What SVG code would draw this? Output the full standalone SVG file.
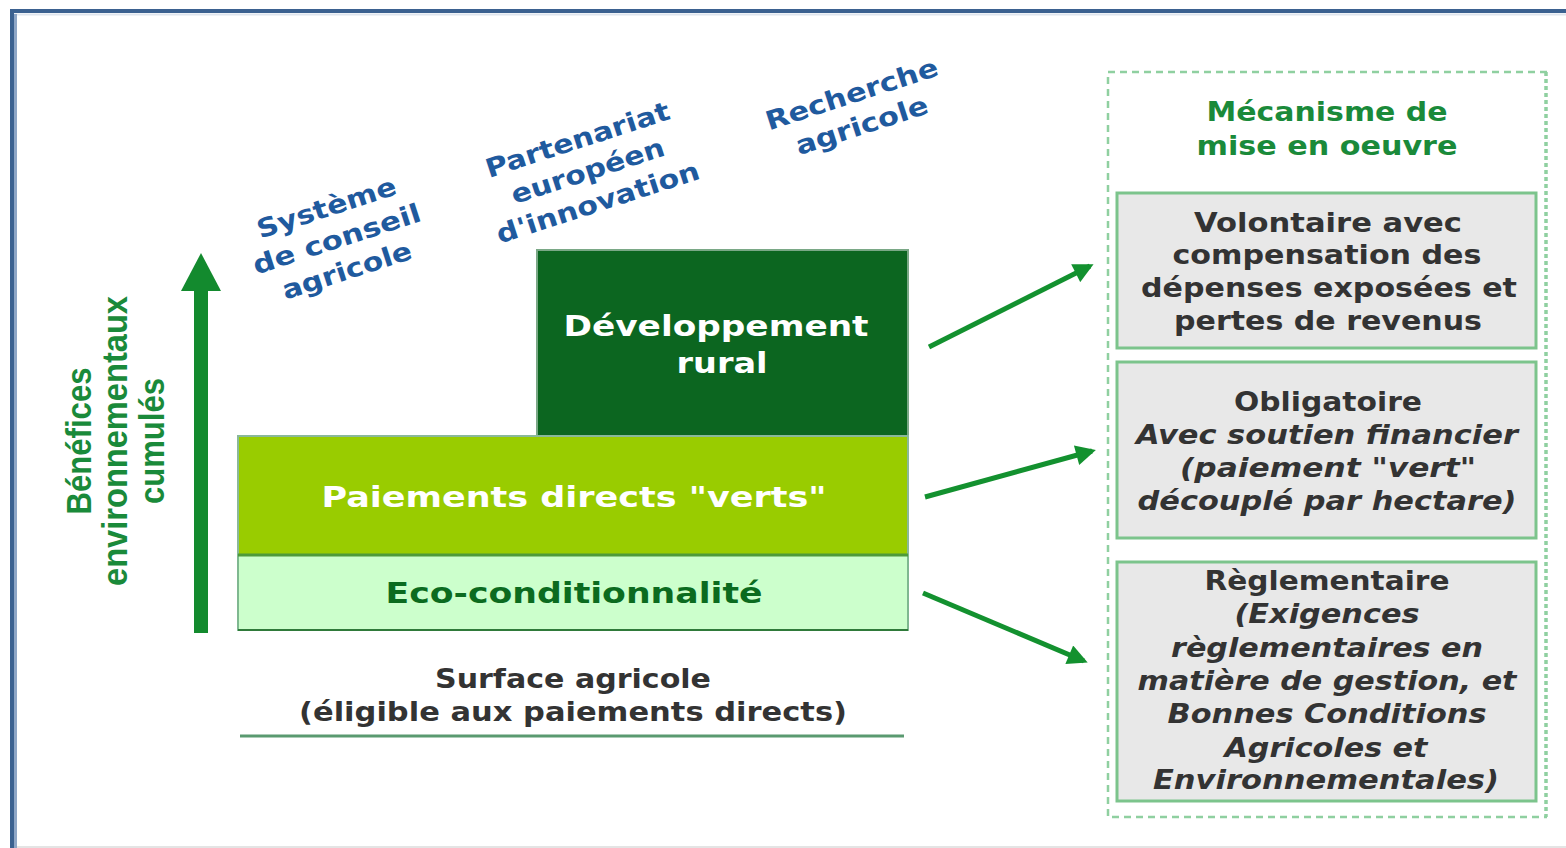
<svg xmlns="http://www.w3.org/2000/svg" width="1566" height="848" viewBox="0 0 1566 848">
<style>
.t{font-family:"DejaVu Sans",Verdana,sans-serif;font-weight:bold;text-anchor:middle}
.blue{fill:#1f5a9e;font-size:26px}
.mech{fill:#1a8a3a;font-size:26px}
.box{fill:#e8e8e8;stroke:#7cc48c;stroke-width:3}
.bt{fill:#333;font-size:27px}
.it{font-style:italic}
.vt{font-family:"Liberation Sans",Arial,sans-serif;font-weight:bold;fill:#1a8a3a;font-size:31px;text-anchor:middle}
.conn{stroke:#13912f;stroke-width:5;fill:none;marker-end:url(#ah)}
.dash{stroke:#8fd0a0;fill:none}
</style>
<defs>
<marker id="ah" viewBox="0 0 10 10" refX="8" refY="5" markerWidth="4.4" markerHeight="4" orient="auto" markerUnits="strokeWidth">
<path d="M0,0 L10,5 L0,10 z" fill="#13912f"/>
</marker>
</defs>
<rect width="1566" height="848" fill="#ffffff"/>
<g id="frame">
<line x1="17" y1="847" x2="1566" y2="847" stroke="#e4e4e4" stroke-width="2"/>
<line x1="14" y1="14.5" x2="1566" y2="14.5" stroke="#dfe5ee" stroke-width="2"/>
<line x1="15.5" y1="14" x2="15.5" y2="848" stroke="#8ea6c6" stroke-width="3"/>
<path d="M12 848 V11 H1566" fill="none" stroke="#3b6190" stroke-width="4"/>
</g>

<g id="labels-top">
<g id="systeme" transform="translate(337,240) rotate(-18)">
<text class="t blue" x="0" y="-25" textLength="145" lengthAdjust="spacingAndGlyphs">Système</text>
<text class="t blue" x="0" y="8" textLength="175" lengthAdjust="spacingAndGlyphs">de conseil</text>
<text class="t blue" x="0" y="41" textLength="135" lengthAdjust="spacingAndGlyphs">agricole</text>
</g>
<g id="partenariat" transform="translate(588,172) rotate(-18)">
<text class="t blue" x="0" y="-25" textLength="192" lengthAdjust="spacingAndGlyphs">Partenariat</text>
<text class="t blue" x="0" y="8" textLength="160" lengthAdjust="spacingAndGlyphs">européen</text>
<text class="t blue" x="0" y="41" textLength="212" lengthAdjust="spacingAndGlyphs">d'innovation</text>
</g>
<g id="recherche" transform="translate(852,95) rotate(-18)">
<text class="t blue" x="0" y="8" textLength="180" lengthAdjust="spacingAndGlyphs">Recherche</text>
<text class="t blue" x="0" y="41" textLength="138" lengthAdjust="spacingAndGlyphs">agricole</text>
</g>
</g>

<g id="axis">
<rect x="194" y="286" width="14" height="347" fill="#138a2e"/>
<polygon points="201,253 221,291 181,291" fill="#138a2e"/>
<text class="vt" transform="translate(91,441) rotate(-90) scale(1,1.15)" textLength="147" lengthAdjust="spacingAndGlyphs">Bénéfices</text>
<text class="vt" transform="translate(127,441) rotate(-90) scale(1,1.15)" textLength="290" lengthAdjust="spacingAndGlyphs">environnementaux</text>
<text class="vt" transform="translate(164,441) rotate(-90) scale(1,1.15)" textLength="126" lengthAdjust="spacingAndGlyphs">cumulés</text>
</g>

<g id="dev-rural">
<rect x="537" y="250" width="371" height="186" fill="#0c6620" stroke="#7aa886" stroke-width="2"/>
<text class="t" fill="#ffffff" font-size="28" x="716" y="336" textLength="305" lengthAdjust="spacingAndGlyphs">Développement</text>
<text class="t" fill="#ffffff" font-size="28" x="722" y="373" textLength="91" lengthAdjust="spacingAndGlyphs">rural</text>
</g>
<g id="paiements">
<rect x="238" y="436" width="670" height="119" fill="#99cc00" stroke="#8ab89a" stroke-width="2"/>
<text class="t" fill="#ffffff" font-size="28" x="574" y="507" textLength="505" lengthAdjust="spacingAndGlyphs">Paiements directs "verts"</text>
</g>
<g id="eco">
<rect x="238" y="555" width="670" height="75" fill="#ccffcc" stroke="#7fb890" stroke-width="2"/>
<line x1="238" y1="555" x2="908" y2="555" stroke="#4d9a3a" stroke-width="3"/>
<line x1="238" y1="630" x2="908" y2="630" stroke="#2f7a3a" stroke-width="2"/>
<text class="t" fill="#0b6b1f" font-size="29" x="574" y="603" textLength="377" lengthAdjust="spacingAndGlyphs">Eco-conditionnalité</text>
</g>
<g id="surface">
<text class="t" fill="#333" font-size="27" x="573" y="688" textLength="276" lengthAdjust="spacingAndGlyphs">Surface agricole</text>
<text class="t" fill="#333" font-size="27" x="573" y="721" textLength="548" lengthAdjust="spacingAndGlyphs">(éligible aux paiements directs)</text>
<line x1="240" y1="736" x2="904" y2="736" stroke="#5a9a70" stroke-width="3"/>
</g>

<g id="connectors">
<line class="conn" x1="929" y1="347" x2="1090" y2="266"/>
<line class="conn" x1="925" y1="497" x2="1092" y2="451"/>
<line class="conn" x1="923" y1="593" x2="1084" y2="661"/>
</g>

<g id="mecanisme">
<path class="dash" d="M1547 72 H1108 V817 H1547" stroke-width="2.5" stroke-dasharray="7 5"/>
<line class="dash" x1="1546" y1="72" x2="1546" y2="817" stroke-width="3.5" stroke-dasharray="4 3"/>
<text class="t mech" x="1327" y="121" textLength="241" lengthAdjust="spacingAndGlyphs">Mécanisme de</text>
<text class="t mech" x="1327" y="155" textLength="261" lengthAdjust="spacingAndGlyphs">mise en oeuvre</text>
</g>
<g id="volontaire">
<rect class="box" x="1117" y="193" width="419" height="155"/>
<text class="t bt" x="1328" y="232" textLength="268" lengthAdjust="spacingAndGlyphs">Volontaire avec</text>
<text class="t bt" x="1327" y="264" textLength="309" lengthAdjust="spacingAndGlyphs">compensation des</text>
<text class="t bt" x="1329" y="297" textLength="376" lengthAdjust="spacingAndGlyphs">dépenses exposées et</text>
<text class="t bt" x="1328" y="330" textLength="308" lengthAdjust="spacingAndGlyphs">pertes de revenus</text>
</g>
<g id="obligatoire">
<rect class="box" x="1117" y="362" width="419" height="176"/>
<text class="t bt" x="1328" y="411" textLength="188" lengthAdjust="spacingAndGlyphs">Obligatoire</text>
<text class="t bt it" x="1327" y="444" textLength="382" lengthAdjust="spacingAndGlyphs">Avec soutien financier</text>
<text class="t bt it" x="1328" y="477" textLength="296" lengthAdjust="spacingAndGlyphs">(paiement "vert"</text>
<text class="t bt it" x="1327" y="510" textLength="379" lengthAdjust="spacingAndGlyphs">découplé par hectare)</text>
</g>
<g id="reglementaire">
<rect class="box" x="1117" y="562" width="419" height="239"/>
<text class="t bt" x="1327" y="590" textLength="245" lengthAdjust="spacingAndGlyphs">Règlementaire</text>
<text class="t bt it" x="1327" y="623" textLength="185" lengthAdjust="spacingAndGlyphs">(Exigences</text>
<text class="t bt it" x="1327" y="657" textLength="312" lengthAdjust="spacingAndGlyphs">règlementaires en</text>
<text class="t bt it" x="1327" y="690" textLength="379" lengthAdjust="spacingAndGlyphs">matière de gestion, et</text>
<text class="t bt it" x="1327" y="723" textLength="319" lengthAdjust="spacingAndGlyphs">Bonnes Conditions</text>
<text class="t bt it" x="1326" y="757" textLength="203" lengthAdjust="spacingAndGlyphs">Agricoles et</text>
<text class="t bt it" x="1326" y="789" textLength="346" lengthAdjust="spacingAndGlyphs">Environnementales)</text>
</g>
</svg>
